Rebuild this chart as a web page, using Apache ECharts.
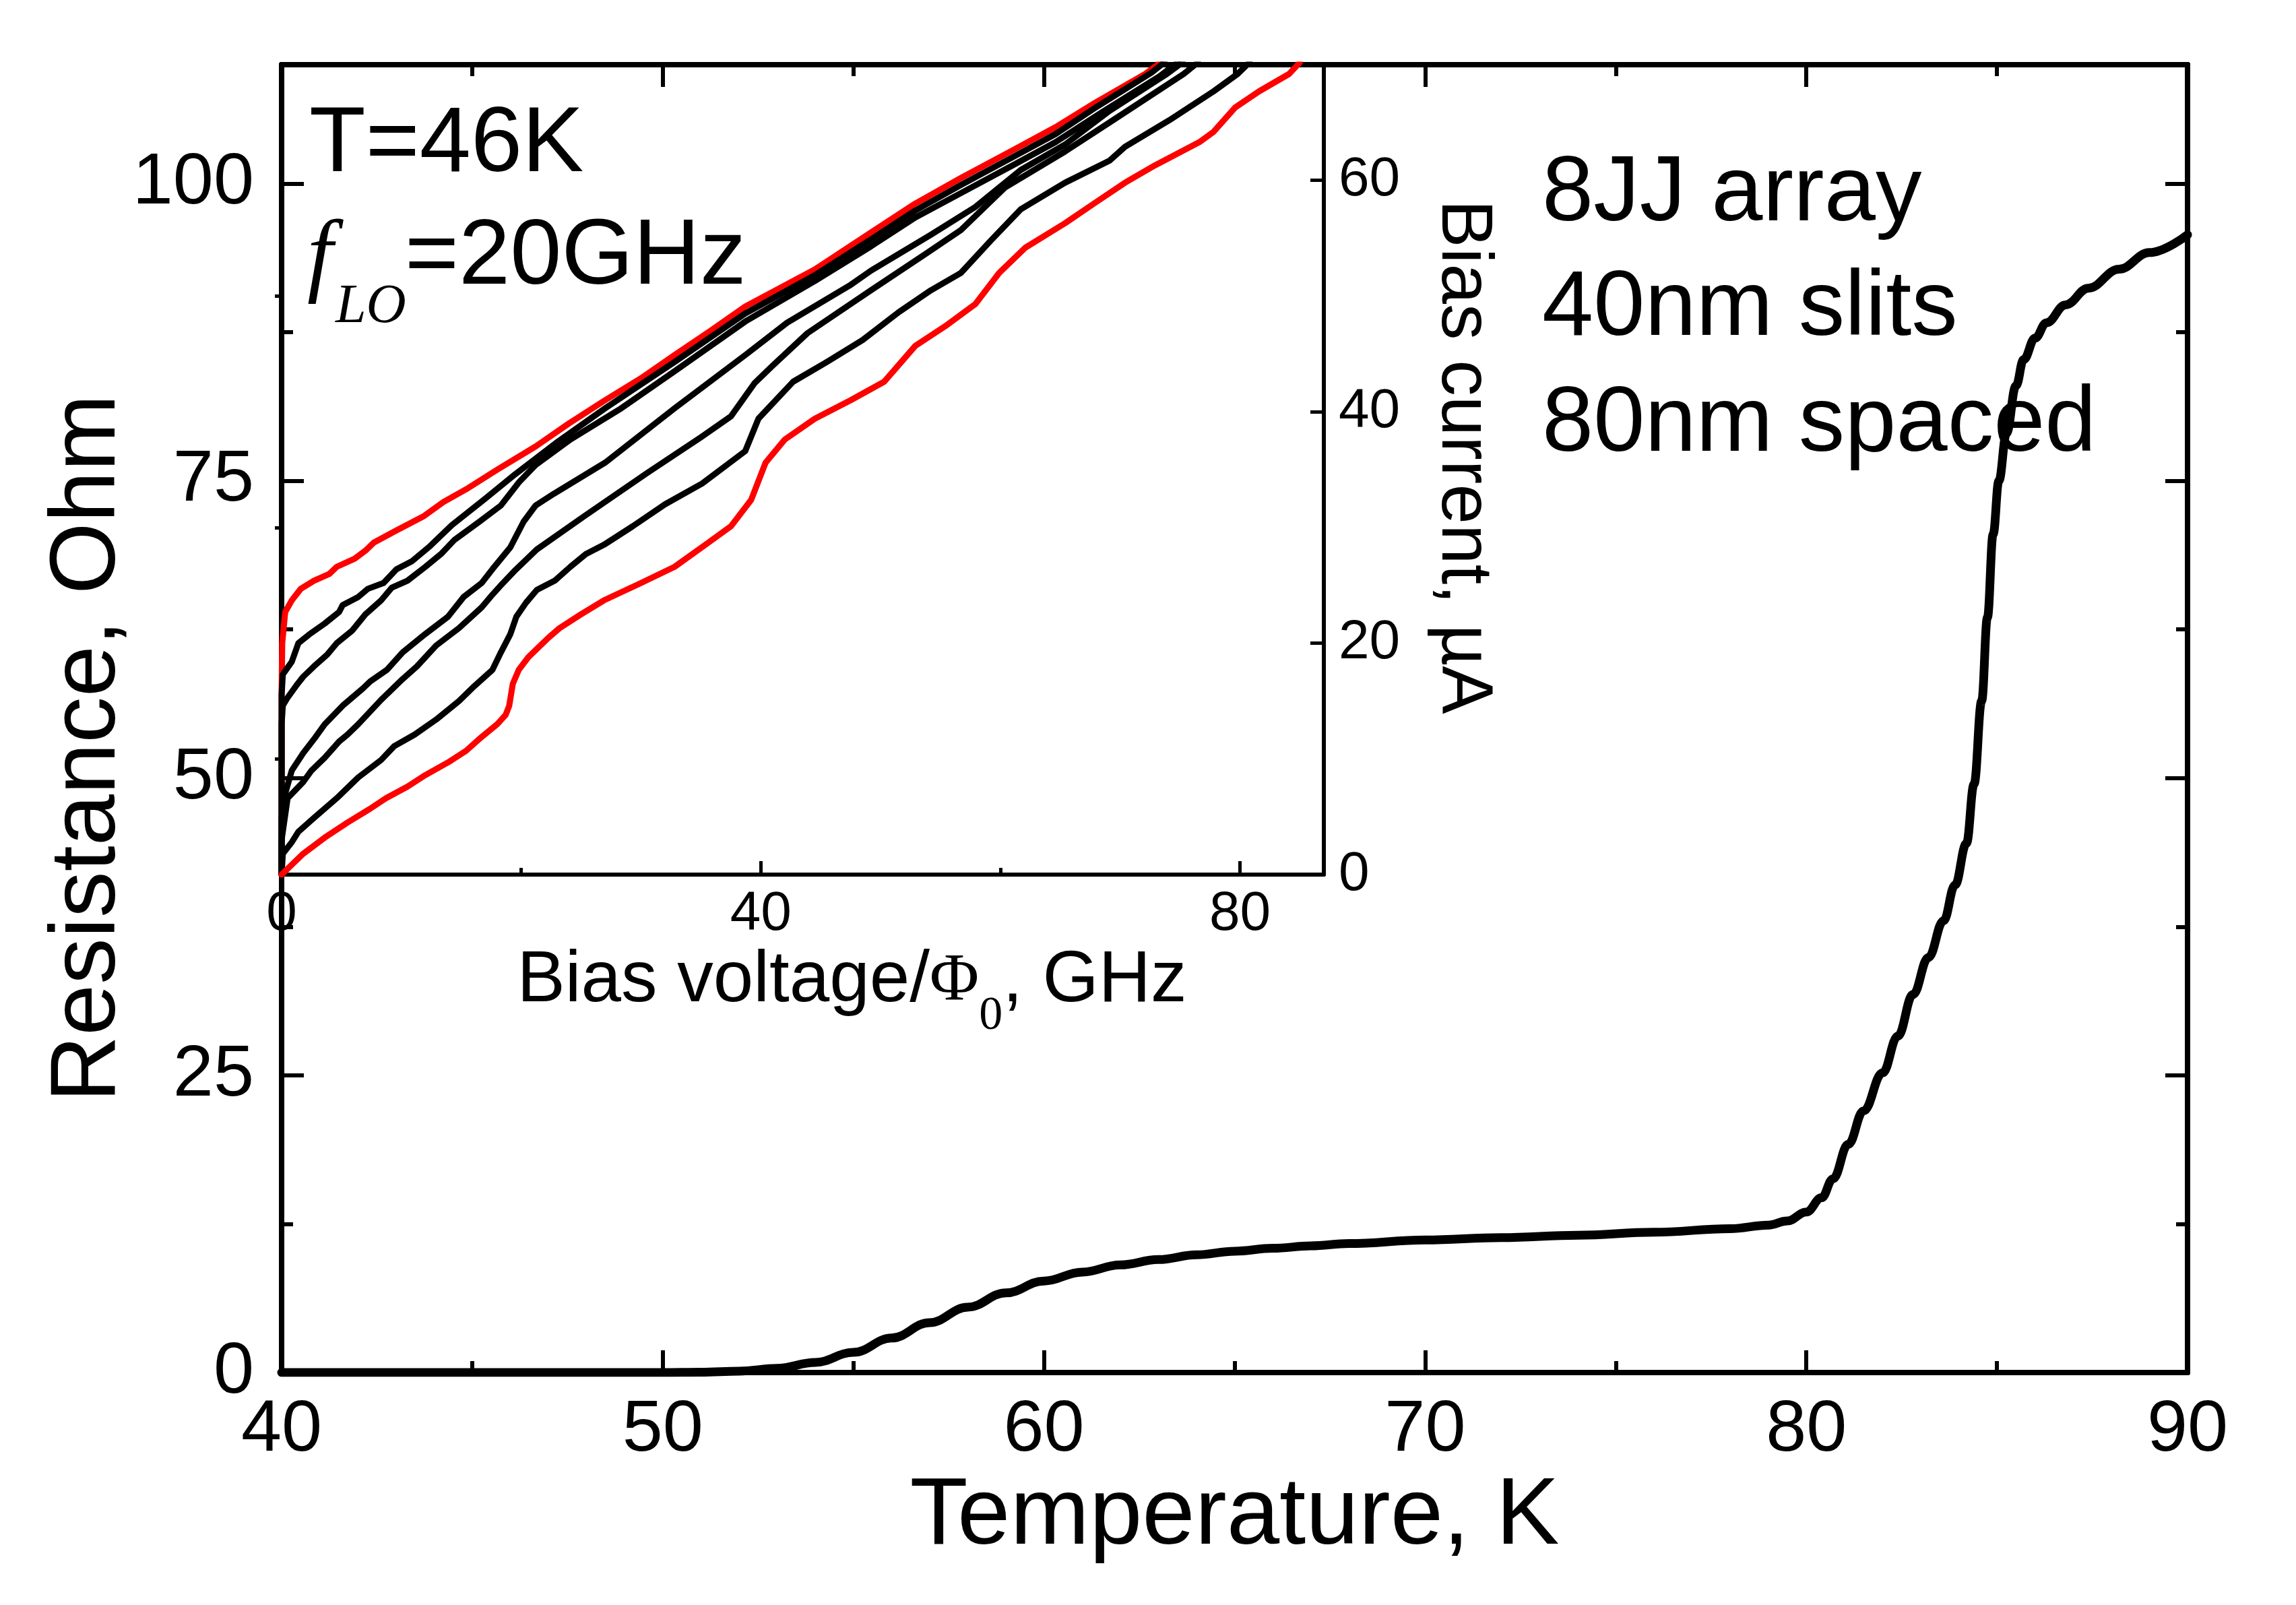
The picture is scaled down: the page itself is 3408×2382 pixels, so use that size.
<!DOCTYPE html>
<html><head><meta charset="utf-8">
<script src="https://cdn.jsdelivr.net/npm/echarts@6/dist/echarts.min.js"></script>
<style>html,body{margin:0;padding:0;background:#fff}#c{width:3408px;height:2382px}</style>
</head><body><div id="c"></div>
<script>
// ---- main R(T) curve ----
const mainTemperature = [40,45,50,51,52,53,54,55,56,57,58,59,60,61,62,63,64,65,66,67,68,70,72,74,76,78,79,79.5,80,80.4,80.7,81.1,81.5,82.0,82.4,82.8,83.2,83.6,83.9,84.2,84.4,84.6,84.75,84.9,85.05,85.25,85.5,85.7,86.0,86.3,86.8,87.4,88.2,89.0,90];
const mainResistance  = [0,0,0,0.03,0.12,0.35,0.85,1.7,2.9,4.2,5.5,6.7,7.7,8.45,9.05,9.5,9.9,10.2,10.45,10.65,10.85,11.15,11.35,11.55,11.8,12.1,12.4,12.75,13.5,14.7,16.3,19.2,22.0,25.2,28.3,31.8,34.9,38.0,41.0,44.5,49.5,56.5,63.5,70.5,75.0,79.0,83.0,85.2,87.0,88.3,89.8,91.2,92.8,94.2,95.7];

// ---- tick values ----
const xTicksMain = [40,50,60,70,80,90];
const yTicksMain = [0,25,50,75,100];
const yMinorMain = [12.5,37.5,62.5,87.5];
const xTicksInset = [0,40,80];
const xMinorInset = [20,60];
const yTicksInset = [0,20,40,60];
const yMinorInset = [10,30,50];

// ---- inset I-V curves: [bias voltage/Phi0 (GHz), bias current (uA)] ----
const ivRedTop = [[0,0],[0,15.7],[0.05,20],[0.3,22.7],[0.85,23.7],[1.6,24.7],[2.7,25.4],[4.0,26.0],[4.6,26.6],[6.1,27.3],[7.0,28.0],[7.7,28.7],[9.5,29.7],[11.9,31.0],[13.5,32.2],[15.4,33.3],[18.0,35.0],[21.2,37.0],[24,39.0],[27,41.0],[30,42.9],[32.8,44.9],[35.8,47.0],[38.7,49.1],[41.6,50.7],[44.5,52.3],[47,54],[49.2,55.5],[52.9,58.0],[56.7,60.2],[61.2,62.7],[64.6,64.6],[67.9,66.7],[72.1,69.2],[73.4,70.2]];
const ivBlackA = [[0,0],[0,15.5],[0.1,17.3],[0.85,18.4],[1.4,20.0],[2.3,20.75],[3.6,21.7],[4.8,22.7],[5.1,23.3],[6.4,24.0],[7.2,24.7],[8.5,25.2],[9.6,26.4],[10.9,27.1],[12.4,28.4],[14.2,30.2],[17,32.5],[19.5,34.6],[22.9,37.3],[27,40.3],[32.8,44.3],[38.7,48.5],[44.5,51.8],[49.2,54.9],[52.9,57.4],[56.7,59.6],[61.2,62.1],[64.6,64.0],[68.1,66.4],[72.6,69.3],[73.7,70.2]];
const ivBlackB = [[0,0],[0,13],[0.1,14.6],[0.5,15.3],[1.2,16.3],[1.8,17.1],[2.7,18.0],[3.8,19.0],[4.6,20.0],[5.9,21.1],[7.0,22.5],[8.3,23.7],[9.2,24.8],[10.5,25.4],[12.0,26.6],[13.3,27.7],[14.4,28.9],[16.5,30.5],[18.3,31.9],[19.8,33.9],[21.2,35.4],[24.1,37.6],[28.2,40.2],[32.8,43.5],[38.7,47.8],[44.5,51.3],[49.2,54.3],[52.9,56.8],[56.7,58.9],[61.2,61.4],[64.6,63.3],[68.5,65.9],[73.3,69.0],[74.8,70.2]];
const ivBlackC = [[0,0],[0,5],[0.3,7],[0.85,9.0],[1.8,10.5],[2.7,11.7],[3.6,13.0],[5.1,14.6],[6.8,16.1],[7.4,16.7],[8.8,17.7],[10.1,19.2],[12.0,20.8],[13.9,22.3],[15.2,24.0],[16.7,25.2],[17.6,26.4],[19.1,28.3],[20.2,30.5],[21.2,31.9],[22.7,32.9],[27,35.6],[32.8,40.3],[38.7,44.9],[42.2,47.7],[47.4,50.9],[49.2,52.2],[54.2,55.3],[57.9,57.7],[61.7,60.9],[65.4,63.1],[69.1,66.0],[73.9,69.2],[75.2,70.2]];
const ivBlackD = [[0,0],[0,3],[0.5,6.6],[1.8,8.0],[2.5,9.0],[3.6,10.1],[4.8,11.5],[5.5,12.1],[6.4,13.0],[8.3,15.1],[10.1,16.9],[11.3,18.0],[12.9,19.8],[14.8,21.3],[16.7,23.1],[17.6,24.2],[18.3,25.0],[19.4,26.2],[21.3,28.1],[25.3,31],[30.5,34.7],[35,37.8],[37.5,39.6],[39.5,42.5],[41,44],[43.9,46.8],[49.2,50.5],[53.7,53.6],[56.7,55.7],[60.4,59.4],[65.4,62.5],[69.1,65.0],[75.3,69.2],[76.5,70.2]];
const ivBlackE = [[0,0],[0.1,1.8],[0.85,2.8],[1.4,3.7],[2.7,4.9],[4.6,6.6],[6.4,8.4],[8.3,9.9],[9.4,11.1],[11.1,12.1],[12.9,13.4],[14.8,15.0],[16.1,16.3],[17.6,17.7],[18.3,19.2],[19.1,20.8],[19.6,22.3],[20.4,23.5],[21.3,24.6],[22.8,25.4],[24.1,26.6],[25.4,27.7],[26.9,28.5],[29.3,30.1],[32,32],[35.1,33.8],[38.7,36.6],[39.8,39.4],[42.7,42.6],[45.5,44.3],[48.5,46.2],[51.5,48.6],[54.2,50.5],[56.7,52.0],[59.2,54.8],[61.7,57.5],[65.4,59.8],[69.1,61.7],[70.4,62.9],[74.1,65.2],[77.8,67.7],[79.8,69.2],[80.8,70.2]];
const ivRedBottom = [[0,0],[0.1,0.1],[1.8,1.8],[3.6,3.2],[5.5,4.5],[7.4,5.7],[8.7,6.6],[10.5,7.6],[12.0,8.6],[13.9,9.7],[15.4,10.7],[16.7,11.9],[18.0,13.0],[18.7,13.8],[19.0,14.6],[19.3,16.5],[19.8,17.7],[20.6,18.8],[22.2,20.4],[23.2,21.3],[25.0,22.5],[26.9,23.7],[30,25.2],[32.8,26.6],[35.5,28.6],[37.5,30.1],[39.2,32.4],[40.4,35.6],[42,37.6],[44.5,39.4],[47.5,41.0],[50.3,42.6],[52.9,45.7],[55.4,47.4],[57.9,49.3],[59.9,52.0],[62.1,54.2],[65.4,56.3],[68.1,58.2],[70.4,59.8],[72.9,61.3],[76.6,63.3],[77.8,64.2],[79.6,66.3],[81.6,67.7],[84.1,69.2],[85.0,70.2]];

const SANS = '"Liberation Sans", Arial, sans-serif';
const SERIF = '"Liberation Serif", "Times New Roman", serif';
const BLACK = '#000000';
const RED = '#ff0000';

function ax(o) {
  return Object.assign({
    type: 'value',
    splitLine: { show: false },
    minorSplitLine: { show: false },
    axisLine: { show: true, onZero: false, lineStyle: { color: BLACK, width: 8 } },
    axisTick: { show: true, inside: true, length: 33, lineStyle: { color: BLACK, width: 6 } },
    axisLabel: { show: false },
    minorTick: { show: false }
  }, o);
}

const chart = echarts.init(document.getElementById('c'), null, { renderer: 'canvas' });

const mainData = mainTemperature.map((t, i) => [t, mainResistance[i]]);

function ivSeries(name, data, color) {
  return {
    name, type: 'line', xAxisIndex: 2, yAxisIndex: 4, data,
    showSymbol: false, symbol: 'none', clip: true, animation: false,
    lineStyle: { color, width: 9, join: 'round', cap: 'round' }, z: 5
  };
}

const option = {
  backgroundColor: '#ffffff',
  animation: false,
  grid: [
    { left: 418, top: 96, width: 2829, height: 1941, containLabel: false, outerBoundsMode: 'none' },
    { left: 418, top: 96, width: 1547, height: 1202, containLabel: false, outerBoundsMode: 'none' }
  ],
  xAxis: [
    ax({ gridIndex: 0, position: 'bottom', min: 40, max: 90, interval: 10,
      minorTick: { show: true, splitNumber: 2, length: 17, lineStyle: { color: BLACK, width: 6 } },
      axisLabel: { show: true, fontSize: 108, fontFamily: SANS, color: BLACK, margin: 32 },
      name: 'Temperature, K', nameLocation: 'middle', nameGap: 132,
      nameTextStyle: { fontSize: 141, fontFamily: SANS, color: BLACK } }),
    ax({ gridIndex: 0, position: 'top', min: 40, max: 90, interval: 10,
      minorTick: { show: true, splitNumber: 2, length: 17, lineStyle: { color: BLACK, width: 6 } } }),
    ax({ gridIndex: 1, position: 'bottom', min: 0, max: 87, interval: 20,
      axisLine: { show: true, onZero: false, lineStyle: { color: BLACK, width: 6 } },
      axisTick: { show: true, inside: true, length: 20, customValues: xTicksInset, lineStyle: { color: BLACK, width: 5 } },
      axisLabel: { show: true, customValues: xTicksInset, fontSize: 82, fontFamily: SANS, color: BLACK, margin: 18 },
      name: 'Bias voltage/{phi|Φ}{sub|0}, GHz', nameLocation: 'middle', nameGap: 66,
      nameTextStyle: { fontSize: 107, fontFamily: SANS, color: BLACK, padding: [0, 0, 0, 146],
        rich: {
          phi: { fontSize: 100, fontFamily: SERIF, color: BLACK },
          sub: { fontSize: 70, fontFamily: SERIF, color: BLACK, padding: [105, 0, 0, 0] }
        } } }),
    ax({ gridIndex: 1, position: 'bottom', min: 0, max: 87, interval: 20,
      axisLine: { show: false },
      axisTick: { show: true, inside: true, length: 10, customValues: xMinorInset, lineStyle: { color: BLACK, width: 5 } } })
  ],
  yAxis: [
    ax({ gridIndex: 0, position: 'left', min: 0, max: 110, interval: 25,
      axisTick: { show: true, inside: true, length: 33, customValues: yTicksMain, lineStyle: { color: BLACK, width: 6 } },
      axisLabel: { show: true, customValues: yTicksMain, fontSize: 108, fontFamily: SANS, color: BLACK, margin: 41 },
      name: 'Resistance, Ohm', nameLocation: 'middle', nameRotate: 90, nameGap: 217, nameMoveOverlap: false,
      nameTextStyle: { fontSize: 137, fontFamily: SANS, color: BLACK, padding: [0, 88, 0, 0] } }),
    ax({ gridIndex: 0, position: 'left', min: 0, max: 110, interval: 25,
      axisTick: { show: true, inside: true, length: 17, customValues: yMinorMain, lineStyle: { color: BLACK, width: 6 } } }),
    ax({ gridIndex: 0, position: 'right', min: 0, max: 110, interval: 25,
      axisTick: { show: true, inside: true, length: 33, customValues: yTicksMain, lineStyle: { color: BLACK, width: 6 } } }),
    ax({ gridIndex: 0, position: 'right', min: 0, max: 110, interval: 25,
      axisTick: { show: true, inside: true, length: 17, customValues: yMinorMain, lineStyle: { color: BLACK, width: 6 } } }),
    ax({ gridIndex: 1, position: 'right', min: 0, max: 70, interval: 10,
      axisLine: { show: true, onZero: false, lineStyle: { color: BLACK, width: 6 } },
      axisTick: { show: true, inside: true, length: 20, customValues: yTicksInset, lineStyle: { color: BLACK, width: 5 } },
      axisLabel: { show: true, customValues: yTicksInset, fontSize: 82, fontFamily: SANS, color: BLACK, margin: 22 },
      name: 'Bias current, µA', nameLocation: 'middle', nameRotate: -90, nameGap: 152,
      nameTextStyle: { fontSize: 107, fontFamily: SANS, color: BLACK, padding: [0, 38, 0, 0] } }),
    ax({ gridIndex: 1, position: 'right', min: 0, max: 70, interval: 10,
      axisLine: { show: false },
      axisTick: { show: true, inside: true, length: 10, customValues: yMinorInset, lineStyle: { color: BLACK, width: 5 } } })
  ],
  series: [
    { name: 'R(T)', type: 'line', xAxisIndex: 0, yAxisIndex: 0, data: mainData,
      showSymbol: false, symbol: 'none', smooth: 0.4, smoothMonotone: 'x', clip: true,
      lineStyle: { color: BLACK, width: 13, join: 'round', cap: 'round' }, z: 3 },
    ivSeries('red top', ivRedTop, RED),
    ivSeries('A', ivBlackA, BLACK),
    ivSeries('B', ivBlackB, BLACK),
    ivSeries('C', ivBlackC, BLACK),
    ivSeries('D', ivBlackD, BLACK),
    ivSeries('E', ivBlackE, BLACK),
    ivSeries('red bottom', ivRedBottom, RED)
  ],
  graphic: [
    { type: 'text', x: 459, y: 216.5, z: 100, style: { text: 'T=46K', fontSize: 137, fontFamily: SANS, fill: BLACK, align: 'left', verticalAlign: 'middle' } },
    { type: 'text', x: 456, y: 386, z: 100, style: { text: 'f', fontSize: 137, fontStyle: 'italic', fontFamily: SERIF, fill: BLACK, align: 'left', verticalAlign: 'middle' } },
    { type: 'text', x: 498, y: 456, z: 100, style: { text: 'LO', fontSize: 82, fontStyle: 'italic', fontFamily: SERIF, fill: BLACK, align: 'left', verticalAlign: 'middle' } },
    { type: 'text', x: 601, y: 383.5, z: 100, style: { text: '=20GHz', fontSize: 137, fontFamily: SANS, fill: BLACK, align: 'left', verticalAlign: 'middle' } },
    { type: 'text', x: 2289, y: 289.5, z: 100, style: { text: '8JJ array', fontSize: 137, fontFamily: SANS, fill: BLACK, align: 'left', verticalAlign: 'middle' } },
    { type: 'text', x: 2289, y: 459.5, z: 100, style: { text: '40nm slits', fontSize: 137, fontFamily: SANS, fill: BLACK, align: 'left', verticalAlign: 'middle' } },
    { type: 'text', x: 2289, y: 631.5, z: 100, style: { text: '80nm spaced', fontSize: 137, fontFamily: SANS, fill: BLACK, align: 'left', verticalAlign: 'middle' } }
  ]
};
chart.setOption(option);
</script>
</body></html>
